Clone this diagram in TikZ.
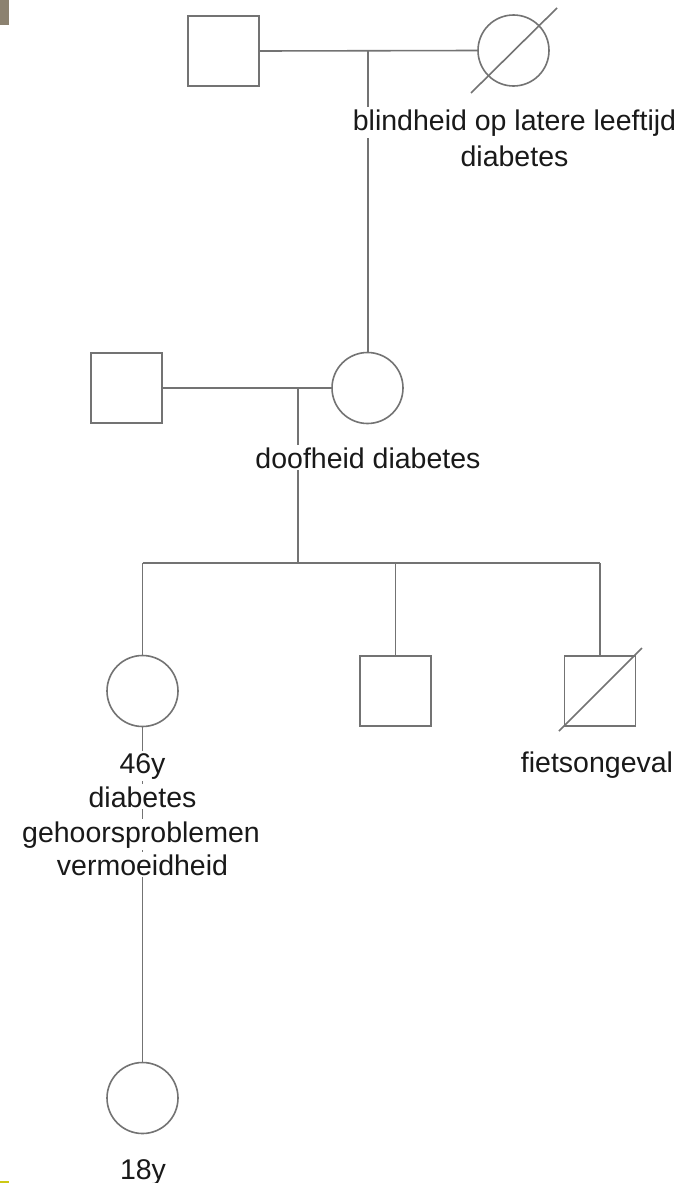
\documentclass[tikz,border=0pt]{standalone}
\usepackage{fontspec}
\setmainfont{Liberation Sans}
\usetikzlibrary{calc}
\definecolor{linec}{RGB}{115,115,115}
\definecolor{textc}{RGB}{25,25,25}
\definecolor{markbrown}{RGB}{140,130,112}
\definecolor{markyellow}{RGB}{205,200,20}
\begin{document}
\begin{tikzpicture}[x=1pt,y=-1pt,
  conn/.style={draw=linec,line width=1.6pt},
  male/.style={draw=linec,line width=1.6pt,rectangle,minimum width=71pt,minimum height=70pt,inner sep=0pt,fill=white},
  female/.style={draw=linec,line width=1.6pt,circle,minimum size=71pt,inner sep=0pt,fill=white},
  lbl/.style={font=\fontsize{28.5}{34}\selectfont,text=textc,fill=white,inner sep=2pt,anchor=base}]
\useasboundingbox (0,0) rectangle (681,1183);
\fill[white] (0,0) rectangle (681,1183);
\fill[markbrown] (0,0) rectangle (9,25);
\fill[markyellow] (0,1181) rectangle (9,1183);
% generation I
\node[male] (gf) at (223.5,51) {};
\node[female] (gm) at (513.5,50.5) {};
\coordinate (u1) at (368,51);
% generation II
\node[male] (f2) at (126.5,388) {};
\node[female] (m2) at (367.5,388) {};
\coordinate (u2) at (298,388);
% generation III
\coordinate (sib) at (298,563);
\node[female] (c1) at (142.5,691) {};
\node[male] (c2) at (395.5,691) {};
\node[male] (c3) at (600,691) {};
% generation IV
\node[female] (g1) at (142.5,1098) {};
% connectors
\draw[conn] (gf.east) -- (gm.west);
\draw[conn] (u1) -- (u1 |- m2.north);
\draw[conn] (f2.east) -- (m2.west);
\draw[conn] (u2) -- (sib);
\draw[conn] (c1.north |- sib) -- (c3.north |- sib);
\draw[conn] (c1.north |- sib) -- (c1.north);
\draw[conn] (c2.north |- sib) -- (c2.north);
\draw[conn] (c3.north |- sib) -- (c3.north);
\draw[conn] (c1.south) -- (g1.north);
% deceased slashes
\draw[conn] ($(gm.center)+(-42.5,42.5)$) -- ($(gm.center)+(43.5,-42.5)$);
\draw[conn] ($(c3.center)+(-41,40)$) -- ($(c3.center)+(42,-43)$);
% labels
\node[lbl] (t1a) at (514.5,130) {blindheid op latere leeftijd};
\node[lbl] (t1b) at (514.5,166) {diabetes};
\node[lbl] (t2) at (368,468) {doofheid diabetes};
\node[lbl] (t3a) at (142.5,773) {46y};
\node[lbl] (t3b) at (142.5,807) {diabetes};
\node[lbl] (t3c) at (141,842) {gehoorsproblemen};
\node[lbl] (t3d) at (142.5,875) {vermoeidheid};
\node[lbl] (t4) at (597,772) {fietsongeval};
\node[lbl] (t5) at (143,1179) {18y};
\end{tikzpicture}
\end{document}
